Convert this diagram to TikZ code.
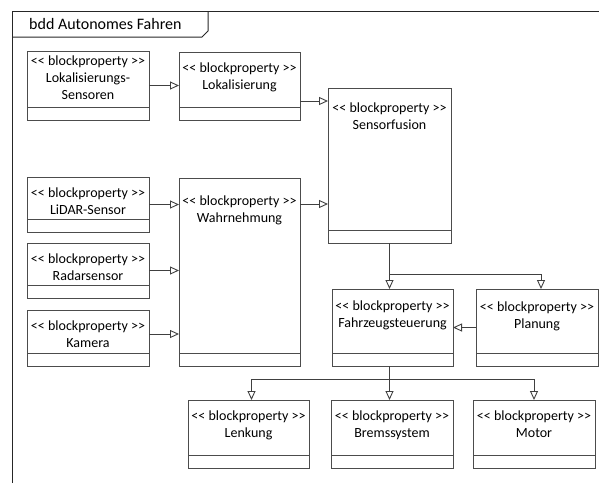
\documentclass[tikz,border=0pt]{standalone}
\usepackage{fontspec}
\setmainfont{Carlito}[Ligatures=TeXOff]
\usetikzlibrary{arrows.meta}

\tikzset{
  blockbox/.style={draw=black!70, line width=1pt, minimum width=122pt,
    inner sep=0pt, outer sep=0pt, anchor=north west,
    path picture={\draw[black!70, line width=1pt]
      ([yshift=12.5pt]path picture bounding box.south west) --
      ([yshift=12.5pt]path picture bounding box.south east);}},
  blocktext/.style={anchor=north, align=center, inner sep=0pt, text=black,
    font=\fontsize{14}{17}\selectfont},
  gen/.style={draw=black!75, line width=0.9pt,
    -{Triangle[open, length=9pt, width=8pt]}},
}

\begin{document}
\begin{tikzpicture}[x=1pt, y=-1pt]
  \useasboundingbox (0,0) rectangle (599,483);
  % frame
  \draw[black!85, line width=1pt] (12,483) -- (12,11) -- (599,11);
  \draw[black!85, line width=1pt] (12,37) -- (202,37) -- (208,31) -- (208,11);
  \node[anchor=west, inner sep=0pt, text=black, font=\fontsize{16}{19}\selectfont]
    (title) at (29,24) {bdd Autonomes Fahren};

  % sensors
  \node[blockbox, minimum height=69pt,
    label={[blocktext, yshift=-5pt]north:{<< blockproperty >>\\Lokalisierungs-\\Sensoren}}]
    (lokSens) at (27,51) {};
  \node[blockbox, minimum height=55pt,
    label={[blocktext, yshift=-11pt]north:{<< blockproperty >>\\LiDAR-Sensor}}]
    (lidar) at (27,177) {};
  \node[blockbox, minimum height=55pt,
    label={[blocktext, yshift=-11pt]north:{<< blockproperty >>\\Radarsensor}}]
    (radar) at (27,243) {};
  \node[blockbox, minimum height=56pt,
    label={[blocktext, yshift=-11pt]north:{<< blockproperty >>\\Kamera}}]
    (kamera) at (27,310) {};

  % processing
  \node[blockbox, minimum width=121pt, minimum height=68pt,
    label={[blocktext, yshift=-11pt]north:{<< blockproperty >>\\Lokalisierung}}]
    (lok) at (179,52) {};
  \node[blockbox, minimum width=121pt, minimum height=188pt,
    label={[blocktext, yshift=-18pt]north:{<< blockproperty >>\\Wahrnehmung}}]
    (wahr) at (179,178) {};
  \node[blockbox, minimum width=123pt, minimum height=155pt,
    label={[blocktext, yshift=-15pt]north:{<< blockproperty >>\\Sensorfusion}}]
    (fusion) at (328,88) {};
  \node[blockbox, minimum width=121pt, minimum height=77pt,
    label={[blocktext, yshift=-12pt]north:{<< blockproperty >>\\Fahrzeugsteuerung}}]
    (fahrz) at (332,289) {};
  \node[blockbox, minimum height=77pt,
    label={[blocktext, yshift=-13pt]north:{<< blockproperty >>\\Planung}}]
    (planung) at (476,289) {};

  % actuators
  \node[blockbox, minimum width=121pt, minimum height=68pt,
    label={[blocktext, yshift=-11pt]north:{<< blockproperty >>\\Lenkung}}]
    (lenkung) at (188,400) {};
  \node[blockbox, minimum height=68pt,
    label={[blocktext, yshift=-11pt]north:{<< blockproperty >>\\Bremssystem}}]
    (brems) at (331,400) {};
  \node[blockbox, minimum height=68pt,
    label={[blocktext, yshift=-11pt]north:{<< blockproperty >>\\Motor}}]
    (motor) at (473,400) {};

  % connectors
  \draw[gen] (lokSens.east) -- (lokSens.east -| lok.west);
  \draw[gen] ([yshift=-15pt]lok.east) -- ([yshift=-15pt]lok.east -| fusion.west);
  \draw[gen] (lidar.east) -- (lidar.east -| wahr.west);
  \draw[gen] (radar.east) -- (radar.east -| wahr.west);
  \draw[gen] ([yshift=4pt]kamera.east) -- ([yshift=4pt]kamera.east -| wahr.west);
  \draw[gen] ([yshift=-26pt]wahr.north east) -- ([yshift=-26pt]wahr.north east -| fusion.west);

  \coordinate (split1) at (fusion.south |- 0,274);
  \draw[gen] (fusion.south) -- (fusion.south |- fahrz.north);
  \draw[gen] (split1) -| ([xshift=4pt]planung.north);
  \draw[gen] (planung.west) -- (planung.west -| fahrz.east);

  \coordinate (split2) at ([xshift=-3pt]fahrz.south |- 0,379);
  \draw[gen] ([xshift=-3pt]fahrz.south) -- ([xshift=-3pt]fahrz.south |- brems.north);
  \draw[gen] (split2) -| ([xshift=3pt]lenkung.north);
  \draw[gen] (split2) -| (motor.north);
\end{tikzpicture}
\end{document}
